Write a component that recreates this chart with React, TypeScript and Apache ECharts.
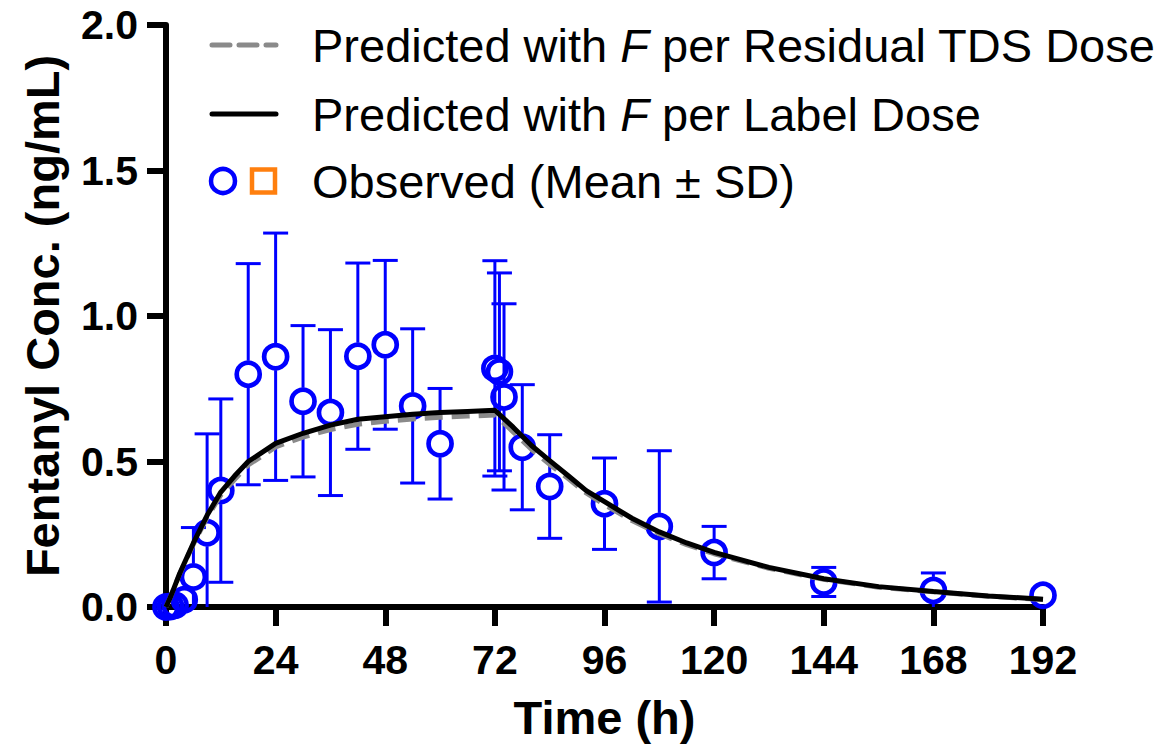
import React, { useEffect, useRef } from "react";
import * as echarts from "echarts";

// Observed data (mean ± SD)
const obsTime = [0, 1, 2, 4, 6, 9, 12, 18, 24, 30, 36, 42, 48, 54, 60, 72, 73, 74, 78, 84, 96, 108, 120, 144, 168, 192];
const obsMean = [0, 0.002, 0.006, 0.025, 0.103, 0.255, 0.40, 0.80, 0.86, 0.707, 0.668, 0.862, 0.901, 0.691, 0.561, 0.82, 0.808, 0.722, 0.549, 0.414, 0.355, 0.277, 0.187, 0.086, 0.057, 0.040];
const obsSD = [0, 0.002, 0.005, 0.02, 0.17, 0.34, 0.315, 0.38, 0.425, 0.26, 0.285, 0.32, 0.29, 0.265, 0.19, 0.37, 0.34, 0.32, 0.215, 0.178, 0.157, 0.26, 0.09, 0.05, 0.06, 0.01];

// Predicted curves
const predTime = [0, 1, 2, 3, 4, 6, 9, 12, 15, 18, 24, 30, 36, 42, 48, 54, 60, 66, 72, 76, 80, 84, 88, 92, 96, 102, 108, 114, 120, 132, 144, 156, 168, 180, 192];
const predLabel = [0, 0.035, 0.075, 0.115, 0.15, 0.22, 0.315, 0.395, 0.45, 0.5, 0.562, 0.597, 0.625, 0.645, 0.654, 0.662, 0.668, 0.672, 0.676, 0.618, 0.555, 0.503, 0.452, 0.4, 0.362, 0.305, 0.258, 0.22, 0.188, 0.136, 0.097, 0.07, 0.053, 0.038, 0.027];
const predResidual = [0, 0.035, 0.075, 0.114, 0.148, 0.216, 0.308, 0.385, 0.438, 0.488, 0.55, 0.584, 0.61, 0.628, 0.638, 0.646, 0.652, 0.656, 0.66, 0.602, 0.542, 0.49, 0.442, 0.392, 0.352, 0.297, 0.252, 0.214, 0.183, 0.133, 0.095, 0.068, 0.052, 0.037, 0.026];

// Axis ticks
const xTicks = [0, 24, 48, 72, 96, 120, 144, 168, 192];
const yTicks = [0, 0.5, 1.0, 1.5, 2.0];

const legendLabels = [
  ["Predicted with ", "F", " per Residual TDS Dose"],
  ["Predicted with ", "F", " per Label Dose"],
  ["Observed (Mean \u00B1 SD)"],
];

const FONT = "'Liberation Sans', Arial, Helvetica, sans-serif";
const BLUE = "#0000ff";
const GREY = "#8a8a8a";
const ORANGE = "#ff7f0e";

export default function App() {
  const ref = useRef<HTMLDivElement>(null);

  useEffect(() => {
    if (!ref.current) return;
    const chart = echarts.init(ref.current, undefined, { renderer: "svg" });

    const obsData = obsTime.map((t, i) => [t, obsMean[i], obsSD[i]]);
    const labelData = predTime.map((t, i) => [t, predLabel[i]]);
    const residualData = predTime.map((t, i) => [t, predResidual[i]]);

    const rich = {
      a: { fontSize: 47, fontFamily: FONT, fill: "#000", color: "#000" },
      i: { fontSize: 47, fontFamily: FONT, fontStyle: "italic", fill: "#000", color: "#000" },
    };

    const legendText = (parts: string[]) =>
      parts.length === 1 ? `{a|${parts[0]}}` : `{a|${parts[0]}}{i|${parts[1]}}{a|${parts[2]}}`;

    const legendX = 312;
    const rowsY = [45, 114, 181];

    chart.setOption({
      animation: false,
      backgroundColor: "#ffffff",
      grid: { left: 166, right: 121, top: 25, bottom: 140, containLabel: false },
      xAxis: {
        type: "value",
        min: 0,
        max: 192,
        interval: 24,
        name: "Time (h)",
        nameLocation: "middle",
        nameGap: 110,
        nameTextStyle: { fontSize: 47, fontWeight: "bold", fontFamily: FONT, color: "#000", verticalAlign: "middle" },
        axisLine: { show: true, lineStyle: { color: "#000", width: 6 } },
        axisTick: { show: true, length: 19, lineStyle: { color: "#000", width: 6 } },
        axisLabel: {
          fontSize: 41,
          fontWeight: "bold",
          fontFamily: FONT,
          color: "#000",
          margin: 32,
          customValues: xTicks,
        },
        splitLine: { show: false },
      },
      yAxis: {
        type: "value",
        min: 0,
        max: 2,
        interval: 0.5,
        name: "Fentanyl Conc. (ng/mL)",
        nameLocation: "middle",
        nameGap: 124,
        nameRotate: 90,
        nameTextStyle: { fontSize: 47, fontWeight: "bold", fontFamily: FONT, color: "#000", verticalAlign: "middle", align: "center" },
        axisLine: { show: true, lineStyle: { color: "#000", width: 6 } },
        axisTick: { show: true, length: 19, lineStyle: { color: "#000", width: 6 } },
        axisLabel: {
          fontSize: 41,
          fontWeight: "bold",
          fontFamily: FONT,
          color: "#000",
          margin: 28,
          formatter: (v: number) => (yTicks.includes(v) ? v.toFixed(1) : ""),
        },
        splitLine: { show: false },
      },
      series: [
        {
          type: "custom",
          name: "Observed SD",
          z: 1,
          clip: true,
          encode: { x: 0, y: 1 },
          data: obsData,
          renderItem: (params: any, api: any) => {
            const x = api.value(0);
            const m = api.value(1);
            const s = api.value(2);
            const c = api.coord([x, m]);
            const top = api.coord([x, m + s]);
            const lowVal = m - s;
            const bot = api.coord([x, Math.max(0, lowVal)]);
            const r = 13.5;
            const capHalf = 12.5;
            const style = { stroke: BLUE, lineWidth: 3, fill: "none", opacity: 1 };
            const children: any[] = [];
            if (c[1] - top[1] > r) {
              children.push({ type: "line", shape: { x1: c[0], y1: top[1], x2: c[0], y2: c[1] - r }, style });
              children.push({ type: "line", shape: { x1: c[0] - capHalf, y1: top[1], x2: c[0] + capHalf, y2: top[1] }, style });
            }
            if (bot[1] - c[1] > r) {
              children.push({ type: "line", shape: { x1: c[0], y1: c[1] + r, x2: c[0], y2: bot[1] }, style });
              if (lowVal >= 0) {
                children.push({ type: "line", shape: { x1: c[0] - capHalf, y1: bot[1], x2: c[0] + capHalf, y2: bot[1] }, style });
              }
            }
            return { type: "group", children };
          },
        },
        {
          type: "scatter",
          name: "Observed (Mean \u00B1 SD)",
          z: 2,
          symbol: "circle",
          symbolSize: 23,
          data: obsData.map((d) => [d[0], d[1]]),
          itemStyle: { color: "rgba(0,0,0,0)", borderColor: BLUE, borderWidth: 4.7, opacity: 1 },
        },
        {
          type: "line",
          name: "Predicted with F per Residual TDS Dose",
          z: 3,
          showSymbol: false,
          data: residualData,
          lineStyle: { color: GREY, width: 5, type: [18, 9] },
        },
        {
          type: "line",
          name: "Predicted with F per Label Dose",
          z: 4,
          showSymbol: false,
          data: labelData,
          lineStyle: { color: "#000", width: 5 },
        },
      ],
      graphic: [
        {
          type: "line",
          shape: { x1: 212, y1: rowsY[0], x2: 276, y2: rowsY[0] },
          style: { stroke: GREY, lineWidth: 5, lineDash: [18, 9], lineCap: "round" },
        },
        {
          type: "line",
          shape: { x1: 212, y1: rowsY[1], x2: 276, y2: rowsY[1] },
          style: { stroke: "#000", lineWidth: 5, lineCap: "round" },
        },
        {
          type: "circle",
          shape: { cx: 223, cy: rowsY[2], r: 12 },
          style: { stroke: BLUE, lineWidth: 4.5, fill: "none" },
        },
        {
          type: "rect",
          shape: { x: 252, y: rowsY[2] - 11.5, width: 23, height: 23 },
          style: { stroke: ORANGE, lineWidth: 4.5, fill: "none" },
        },
        ...legendLabels.map((parts, i) => ({
          type: "text",
          x: legendX,
          y: rowsY[i],
          style: {
            text: legendText(parts),
            rich,
            fontSize: 47,
            fontFamily: FONT,
            fill: "#000",
            verticalAlign: "middle",
            align: "left",
          },
        })),
      ],
    });

    return () => chart.dispose();
  }, []);

  return (
    <div
      ref={ref}
      style={{ position: "fixed", left: 0, top: 0, width: 1164, height: 747, background: "#fff" }}
    />
  );
}
